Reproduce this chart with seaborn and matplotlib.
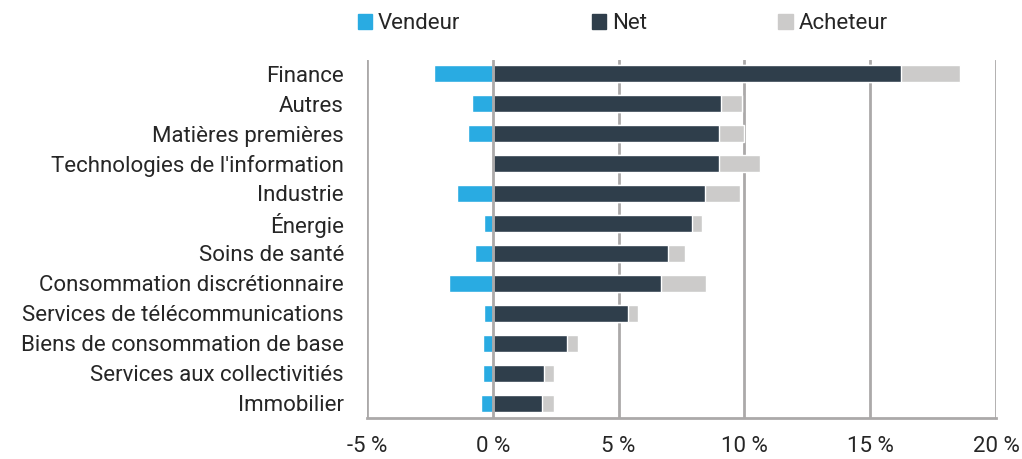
from matplotlib import pyplot as plt
from matplotlib.patches import Patch
import pandas as pd
import seaborn as sns

# Data (% of positions)
sectors = ['Finance', 'Autres', 'Matières premières', "Technologies de l'information",
           'Industrie', 'Énergie', 'Soins de santé', 'Consommation discrétionnaire',
           'Services de télécommunications', 'Biens de consommation de base',
           'Services aux collectivitiés', 'Immobilier']
vendeur = [-2.33, -0.83, -0.97, 0.0, -1.40, -0.36, -0.69, -1.75, -0.36, -0.40, -0.40, -0.46]
net = [16.24, 9.08, 8.99, 8.99, 8.42, 7.94, 6.95, 6.70, 5.36, 2.95, 2.03, 1.96]
acheteur = [18.58, 9.90, 9.98, 10.64, 9.83, 8.32, 7.66, 8.47, 5.76, 3.38, 2.43, 2.43]
x_ticks = [-5, 0, 5, 10, 15, 20]
x_tick_labels = ['-5 %', '0 %', '5 %', '10 %', '15 %', '20 %']

df = pd.DataFrame({'sector': sectors, 'vendeur': vendeur, 'net': net, 'acheteur': acheteur})

c_vend = '#29ABE2'
c_net = '#2F3E4B'
c_ach = '#CCCBCA'
c_grid = '#ABA9A9'

sns.set_style('white')
plt.rcParams['font.family'] = ['Roboto', 'DejaVu Sans']

fig = plt.figure(figsize=(10.22, 4.59), dpi=100)
ax = fig.add_axes([0.359, 0.089, 0.6155, 0.78])

# acheteur drawn first, net on top of it, vendeur on the negative side
sns.barplot(data=df, x='acheteur', y='sector', color=c_ach, width=0.57, saturation=1,
            ax=ax, orient='h', zorder=2)
sns.barplot(data=df, x='net', y='sector', color=c_net, width=0.57, saturation=1,
            ax=ax, orient='h', zorder=3)
sns.barplot(data=df, x='vendeur', y='sector', color=c_vend, width=0.57, saturation=1,
            ax=ax, orient='h', zorder=3)

ax.set_xlim(-5, 20)
ax.set_ylim(11.5, -0.45)
ax.set_xticks(x_ticks)
ax.set_xticklabels(x_tick_labels, fontsize=16)
ax.set_xlabel('')
ax.set_ylabel('')
ax.tick_params(axis='y', length=0, pad=16.5, labelsize=16)
ax.tick_params(axis='x', length=6, width=2, color=c_grid, pad=7)

for x in x_ticks:
    ax.axvline(x, color=c_grid, lw=2, zorder=1 if x != 0 else 4)

ax.spines['top'].set_visible(False)
ax.spines['left'].set_visible(False)
ax.spines['right'].set_visible(False)
ax.spines['bottom'].set_color(c_grid)
ax.spines['bottom'].set_linewidth(2)

handles = [Patch(color=c_vend, label='Vendeur'),
           Patch(color=c_net, label='Net'),
           Patch(color=c_ach, label='Acheteur')]
fig.legend(handles=handles, loc='center left', bbox_to_anchor=(0.350, 0.948), ncol=3,
           frameon=False, fontsize=16, handlelength=0.65, handleheight=0.65,
           handletextpad=0.27, columnspacing=5.9, borderpad=0, borderaxespad=0)

plt.savefig('out.png', dpi=100)
